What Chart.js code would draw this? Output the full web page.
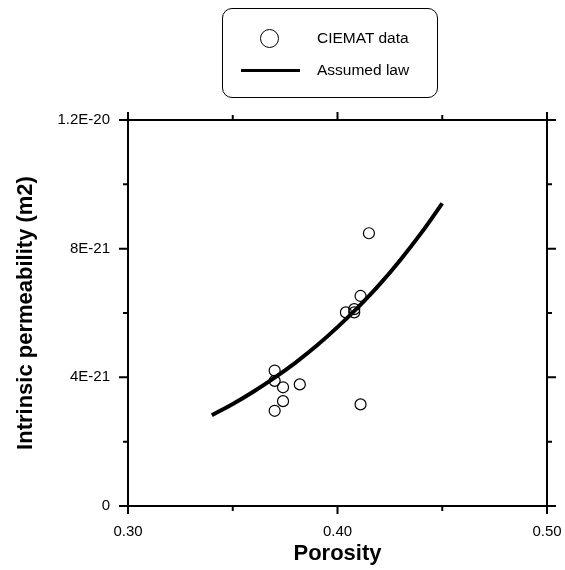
<!DOCTYPE html>
<html>
<head>
<meta charset="utf-8">
<script src="https://cdn.jsdelivr.net/npm/chart.js@4.4.1/dist/chart.umd.min.js"></script>
<style>
  body { margin: 0; background: #fff; }
  #wrap { position: relative; width: 565px; height: 570px; }
  #legend {
    position: absolute; left: 222px; top: 8px; width: 216px; height: 90px;
    border: 1px solid #000; border-radius: 10px; box-sizing: border-box;
    font-family: 'Liberation Sans', Arial, sans-serif; font-size: 15.5px; color: #000;
  }
  #legend .row { position: absolute; left: 94px; }
  #legend .mark { position: absolute; left: 37px; width: 19px; height: 19px; border: 1px solid #000; border-radius: 50%; box-sizing: border-box; top: 20px; }
  #legend .ln { position: absolute; left: 18px; width: 59px; height: 3px; background: #000; top: 60px; }
</style>
</head>
<body>
<div id="wrap">
  <canvas id="chart" width="565" height="570"></canvas>
  <div id="legend">
    <div class="mark"></div>
    <div class="row" style="top:20px">CIEMAT data</div>
    <div class="ln"></div>
    <div class="row" style="top:52px">Assumed law</div>
  </div>
</div>
<script>
// CIEMAT measurements
var porosity = [0.415, 0.411, 0.408, 0.408, 0.404, 0.370, 0.370, 0.374, 0.382, 0.374, 0.370, 0.411];
var permeability = [8.48e-21, 6.53e-21, 6.12e-21, 6.02e-21, 6.02e-21, 4.21e-21, 3.89e-21, 3.69e-21, 3.78e-21, 3.26e-21, 2.96e-21, 3.16e-21];

// assumed law
var lawPorosity = [0.34, 0.35, 0.36, 0.37, 0.38, 0.39, 0.40, 0.41, 0.42, 0.43, 0.44, 0.45];
var lawPermeability = [2.82e-21, 3.17e-21, 3.56e-21, 3.99e-21, 4.46e-21, 4.98e-21, 5.56e-21, 6.19e-21, 6.88e-21, 7.65e-21, 8.49e-21, 9.41e-21];

var xTickLabels = ['0.30', '', '0.40', '', '0.50'];
var yTickLabels = ['0', '', '4E-21', '', '8E-21', '', '1.2E-20'];

var font = "'Liberation Sans', Arial, sans-serif";

var pts = [];
for (var i in porosity) pts.push({x: porosity[i], y: permeability[i]});
var law = [];
for (var j in lawPorosity) law.push({x: lawPorosity[j], y: lawPermeability[j]});

// frame + outward ticks on all four sides
var frameTicks = {
  id: 'frameTicks',
  afterDraw: function(chart) {
    var c = chart.ctx, a = chart.chartArea;
    var xs = chart.scales.x, ys = chart.scales.y;
    c.save();
    c.strokeStyle = '#000';
    c.lineWidth = 2;
    c.strokeRect(a.left, a.top, a.right - a.left, a.bottom - a.top);
    c.beginPath();
    xs.ticks.forEach(function(t, k) {
      var len = k % 2 == 0 ? 8 : 5;
      var px = xs.getPixelForValue(t.value);
      c.moveTo(px, a.bottom); c.lineTo(px, a.bottom + len);
      c.moveTo(px, a.top); c.lineTo(px, a.top - len);
    });
    ys.ticks.forEach(function(t, k) {
      var len = k % 2 == 0 ? 9 : 5;
      var py = ys.getPixelForValue(t.value);
      c.moveTo(a.left, py); c.lineTo(a.left - len, py);
      c.moveTo(a.right, py); c.lineTo(a.right + len, py);
    });
    c.stroke();
    c.restore();
  }
};

var data = {
  datasets: [
    {
      label: 'CIEMAT data',
      data: pts,
      pointStyle: 'circle',
      pointRadius: 5.5,
      borderColor: '#000',
      backgroundColor: 'rgba(0,0,0,0)',
      borderWidth: 1.2
    },
    {
      label: 'Assumed law',
      data: law,
      showLine: true,
      pointRadius: 0,
      borderColor: '#000',
      borderWidth: 4,
      cubicInterpolationMode: 'monotone'
    }
  ]
};

var options = {
  responsive: false,
  animation: false,
  layout: { padding: { left: 0, right: 18, top: 120, bottom: 0 } },
  plugins: { legend: { display: false }, tooltip: { enabled: false } },
  scales: {
    x: {
      type: 'linear', min: 0.30, max: 0.50,
      grid: { display: false, drawTicks: false },
      border: { display: false },
      ticks: {
        stepSize: 0.05, padding: 17, maxRotation: 0, color: '#000',
        font: { family: font, size: 15 },
        callback: function(v, idx) { return xTickLabels[idx]; }
      },
      title: { display: true, text: 'Porosity', color: '#000', padding: { top: 0, bottom: 3 },
               font: { family: font, size: 22, weight: 'bold' } },
      afterFit: function(s) { s.height = 64; s.paddingLeft = 0; s.paddingRight = 0; }
    },
    y: {
      type: 'linear', min: 0, max: 1.2e-20,
      grid: { display: false, drawTicks: false },
      border: { display: false },
      ticks: {
        stepSize: 2e-21, padding: 18, color: '#000',
        font: { family: font, size: 15 },
        callback: function(v, idx) { return yTickLabels[idx]; }
      },
      title: { display: true, text: 'Intrinsic permeability (m2)', color: '#000', padding: { top: 13, bottom: 0 },
               font: { family: font, size: 22, weight: 'bold' } },
      afterFit: function(s) { s.width = 128; s.paddingTop = 0; s.paddingBottom = 0; }
    }
  }
};

var ctx = document.getElementById('chart');
var myChart = new Chart(ctx, {
  type: 'scatter',
  data: data,
  options: options,
  plugins: [frameTicks]
});
</script>
</body>
</html>
